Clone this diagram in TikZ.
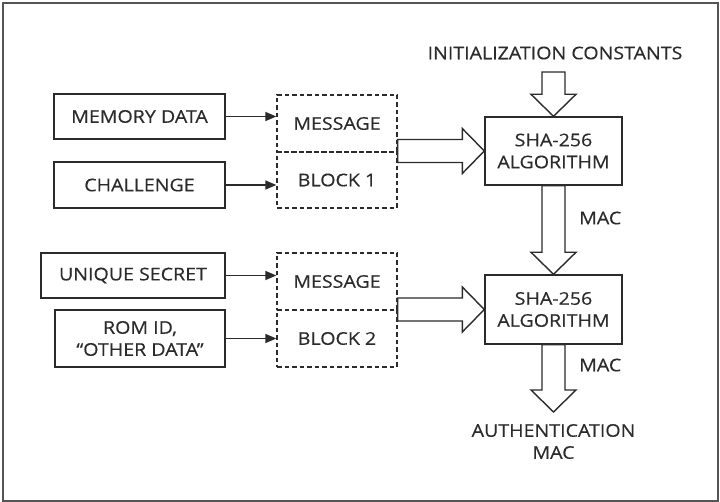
\documentclass[tikz,border=0pt]{standalone}
\usepackage{fontspec}
\setmainfont{Open Sans}[FakeStretch=1.12, FakeBold=0.4]
\usetikzlibrary{calc,arrows.meta}

\definecolor{ink}{HTML}{2B2B2B}
\definecolor{framegray}{HTML}{555555}

% hollow block arrow, horizontal: body from #1, tip at #2
\newcommand{\hollowH}[2]{%
  \draw[hollow] let \p1=(#1), \p2=(#2) in
    (\x1,\y2+11.5pt) -- (\x2-22pt,\y2+11.5pt) -- (\x2-22pt,\y2+22.5pt) --
    (\x2,\y2) -- (\x2-22pt,\y2-22.5pt) -- (\x2-22pt,\y2-11.5pt) --
    (\x1,\y2-11.5pt) -- cycle;}
% hollow block arrow, vertical (downwards): body from #1, tip at #2
\newcommand{\hollowV}[2]{%
  \draw[hollow] let \p1=(#1), \p2=(#2) in
    (\x2-11.5pt,\y1) -- (\x2-11.5pt,\y2+22pt) -- (\x2-22.5pt,\y2+22pt) --
    (\x2,\y2) -- (\x2+22.5pt,\y2+22pt) -- (\x2+11.5pt,\y2+22pt) --
    (\x2+11.5pt,\y1) -- cycle;}

\begin{document}
\begin{tikzpicture}[x=1pt,y=-1pt,
  every node/.style={font=\fontsize{17.5}{22}\selectfont, text=ink, inner sep=0pt, align=center},
  box/.style={draw=ink, line width=1.4pt, minimum width=171pt, minimum height=45pt},
  dbox/.style={draw=ink, line width=1.3pt, dash pattern=on 4.5pt off 3pt, minimum width=120pt, minimum height=57pt},
  shabox/.style={draw=ink, line width=1.4pt, minimum width=137pt, minimum height=68pt},
  feed/.style={draw=ink, line width=1.4pt, -{Triangle[length=11pt,width=9pt]}},
  hollow/.style={draw=ink, line width=1.4pt, fill=white, line join=miter}
]
\useasboundingbox (0,0) rectangle (720,502);
\draw[framegray, line width=2pt] (3,3) rectangle (717.5,500.5);

% input boxes
\node[box] (mem) at (139.5,116.5) {MEMORY DATA};
\node[box, minimum height=46pt] (chal) at (139.5,185) {CHALLENGE};
\node[box, minimum width=184pt] (secret) at (133,275.5) {UNIQUE SECRET};
\node[box, minimum width=170pt, minimum height=57pt] (rom) at (140,338.5) {ROM ID,\\``OTHER DATA''};

% message blocks
\node[dbox] (msg1) at (337,123.5) {MESSAGE};
\node[dbox, minimum height=56pt] (blk1) at (337,180) {BLOCK 1};
\node[dbox] (msg2) at (337,281.5) {MESSAGE};
\node[dbox] (blk2) at (337,338.5) {BLOCK 2};

% hash engines
\node[shabox] (sha1) at (553.5,151) {SHA-256\\ALGORITHM};
\node[shabox, minimum height=69pt] (sha2) at (553.5,309.5) {SHA-256\\ALGORITHM};

% labels
\node (init) at (555,53) {INITIALIZATION CONSTANTS};
\node[anchor=west] (mac1) at (579,218) {MAC};
\node[anchor=west] (mac2) at (579,365) {MAC};
\node (auth) at (553.5,441.5) {AUTHENTICATION\\MAC};
\coordinate (inittop) at (553.5,72);
\coordinate (authtip) at (553.5,412);

% data feeds
\draw[feed] (mem.east) -- (mem.east -| msg1.west);
\draw[feed] (chal.east) -- (chal.east -| blk1.west);
\draw[feed] (secret.east) -- (secret.east -| msg2.west);
\draw[feed] (rom.east) -- (rom.east -| blk2.west);

% block arrows
\hollowH{msg1.south east}{sha1.west}
\hollowH{msg2.south east}{sha2.west}
\hollowV{inittop}{sha1.north}
\hollowV{sha1.south}{sha2.north}
\hollowV{sha2.south}{authtip}
\end{tikzpicture}
\end{document}
